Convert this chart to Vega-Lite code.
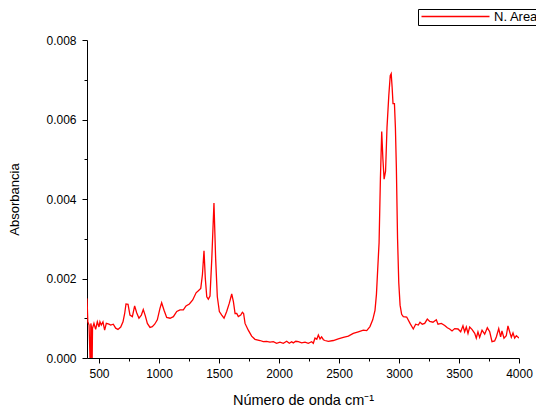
{
  "$schema": "https://vega.github.io/schema/vega-lite/v6.json",
  "width": 432,
  "height": 318,
  "autosize": {"type": "none"},
  "padding": {"left": 87, "top": 40, "right": 17, "bottom": 58},
  "background": "white",
  "config": {
    "view": {"stroke": null},
    "font": "Liberation Sans",
    "axis": {
      "grid": false,
      "domainColor": "black",
      "tickColor": "black",
      "labelColor": "black",
      "titleColor": "black",
      "labelFont": "Liberation Sans",
      "titleFont": "Liberation Sans",
      "labelFontSize": 12,
      "titleFontSize": 13,
      "titleFontWeight": "normal"
    }
  },
  "data": {
    "values": [
      {"wn": 400, "a": 0.0015}, {"wn": 407, "a": 0.00091}, {"wn": 417, "a": 0.00083}, {"wn": 428, "a": -0.0003},
      {"wn": 432, "a": 0.00087}, {"wn": 436, "a": 0.0008}, {"wn": 442, "a": -0.0003}, {"wn": 446, "a": 0.00075},
      {"wn": 458, "a": 0.00087}, {"wn": 472, "a": 0.00072}, {"wn": 486, "a": 0.00091}, {"wn": 500, "a": 0.00078},
      {"wn": 508, "a": 0.00091}, {"wn": 519, "a": 0.00083}, {"wn": 533, "a": 0.00091}, {"wn": 547, "a": 0.0007},
      {"wn": 561, "a": 0.00087}, {"wn": 583, "a": 0.00085}, {"wn": 597, "a": 0.00083}, {"wn": 619, "a": 0.00085},
      {"wn": 639, "a": 0.00075}, {"wn": 658, "a": 0.00072}, {"wn": 681, "a": 0.00078}, {"wn": 700, "a": 0.00091},
      {"wn": 714, "a": 0.00112}, {"wn": 725, "a": 0.00136}, {"wn": 742, "a": 0.00135}, {"wn": 758, "a": 0.00108},
      {"wn": 778, "a": 0.00104}, {"wn": 797, "a": 0.00131}, {"wn": 814, "a": 0.00114}, {"wn": 833, "a": 0.001},
      {"wn": 853, "a": 0.00108}, {"wn": 869, "a": 0.00122}, {"wn": 886, "a": 0.00106}, {"wn": 903, "a": 0.00087},
      {"wn": 925, "a": 0.00077}, {"wn": 944, "a": 0.00079}, {"wn": 964, "a": 0.00085}, {"wn": 986, "a": 0.00096},
      {"wn": 1008, "a": 0.00125}, {"wn": 1022, "a": 0.00139}, {"wn": 1042, "a": 0.0012}, {"wn": 1064, "a": 0.00102},
      {"wn": 1092, "a": 0.001}, {"wn": 1120, "a": 0.00104}, {"wn": 1148, "a": 0.00117}, {"wn": 1175, "a": 0.00121},
      {"wn": 1203, "a": 0.00121}, {"wn": 1225, "a": 0.00131}, {"wn": 1253, "a": 0.00136}, {"wn": 1281, "a": 0.00146},
      {"wn": 1309, "a": 0.00164}, {"wn": 1328, "a": 0.00169}, {"wn": 1348, "a": 0.00175}, {"wn": 1362, "a": 0.0021},
      {"wn": 1375, "a": 0.0027}, {"wn": 1386, "a": 0.002}, {"wn": 1398, "a": 0.00154}, {"wn": 1411, "a": 0.00148},
      {"wn": 1425, "a": 0.00156}, {"wn": 1440, "a": 0.0025}, {"wn": 1458, "a": 0.0039}, {"wn": 1472, "a": 0.0025},
      {"wn": 1486, "a": 0.00154}, {"wn": 1503, "a": 0.00117}, {"wn": 1523, "a": 0.00108}, {"wn": 1542, "a": 0.001},
      {"wn": 1564, "a": 0.00117}, {"wn": 1586, "a": 0.00138}, {"wn": 1606, "a": 0.00161}, {"wn": 1620, "a": 0.00142},
      {"wn": 1634, "a": 0.00112}, {"wn": 1648, "a": 0.00112}, {"wn": 1661, "a": 0.00104}, {"wn": 1681, "a": 0.00108},
      {"wn": 1695, "a": 0.00115}, {"wn": 1705, "a": 0.00112}, {"wn": 1717, "a": 0.00087}, {"wn": 1744, "a": 0.0007},
      {"wn": 1772, "a": 0.00055}, {"wn": 1800, "a": 0.00047}, {"wn": 1842, "a": 0.00044}, {"wn": 1869, "a": 0.00041},
      {"wn": 1897, "a": 0.00042}, {"wn": 1925, "a": 0.0004}, {"wn": 1953, "a": 0.00041}, {"wn": 1980, "a": 0.00037},
      {"wn": 2008, "a": 0.0004}, {"wn": 2036, "a": 0.00037}, {"wn": 2064, "a": 0.00042}, {"wn": 2086, "a": 0.00037},
      {"wn": 2105, "a": 0.00041}, {"wn": 2119, "a": 0.00038}, {"wn": 2140, "a": 0.00042}, {"wn": 2161, "a": 0.00041},
      {"wn": 2189, "a": 0.00038}, {"wn": 2217, "a": 0.0004}, {"wn": 2244, "a": 0.00037}, {"wn": 2272, "a": 0.00041},
      {"wn": 2286, "a": 0.00037}, {"wn": 2300, "a": 0.0005}, {"wn": 2315, "a": 0.00047}, {"wn": 2328, "a": 0.00058},
      {"wn": 2342, "a": 0.00048}, {"wn": 2355, "a": 0.00053}, {"wn": 2370, "a": 0.00046}, {"wn": 2383, "a": 0.00044},
      {"wn": 2411, "a": 0.00042}, {"wn": 2453, "a": 0.00044}, {"wn": 2494, "a": 0.00048}, {"wn": 2536, "a": 0.00052},
      {"wn": 2578, "a": 0.00055}, {"wn": 2619, "a": 0.00062}, {"wn": 2661, "a": 0.00066}, {"wn": 2703, "a": 0.0007},
      {"wn": 2731, "a": 0.00069}, {"wn": 2758, "a": 0.00079}, {"wn": 2781, "a": 0.00096}, {"wn": 2800, "a": 0.0012},
      {"wn": 2812, "a": 0.0016}, {"wn": 2822, "a": 0.0022}, {"wn": 2834, "a": 0.0029}, {"wn": 2845, "a": 0.0045},
      {"wn": 2856, "a": 0.0057}, {"wn": 2866, "a": 0.005}, {"wn": 2876, "a": 0.0045}, {"wn": 2888, "a": 0.0047},
      {"wn": 2900, "a": 0.0058}, {"wn": 2915, "a": 0.0066}, {"wn": 2927, "a": 0.0071}, {"wn": 2935, "a": 0.00715},
      {"wn": 2943, "a": 0.0068}, {"wn": 2950, "a": 0.0064}, {"wn": 2962, "a": 0.0064}, {"wn": 2970, "a": 0.0058},
      {"wn": 2978, "a": 0.0048}, {"wn": 2988, "a": 0.003}, {"wn": 2998, "a": 0.0019}, {"wn": 3009, "a": 0.00133},
      {"wn": 3022, "a": 0.0011}, {"wn": 3036, "a": 0.00104}, {"wn": 3064, "a": 0.00103}, {"wn": 3092, "a": 0.00087},
      {"wn": 3119, "a": 0.00073}, {"wn": 3139, "a": 0.00085}, {"wn": 3161, "a": 0.00083}, {"wn": 3175, "a": 0.0009},
      {"wn": 3194, "a": 0.00085}, {"wn": 3214, "a": 0.00087}, {"wn": 3236, "a": 0.00098}, {"wn": 3256, "a": 0.00092},
      {"wn": 3283, "a": 0.0009}, {"wn": 3311, "a": 0.00096}, {"wn": 3325, "a": 0.00085}, {"wn": 3353, "a": 0.00087},
      {"wn": 3381, "a": 0.00082}, {"wn": 3403, "a": 0.00076}, {"wn": 3422, "a": 0.00073}, {"wn": 3442, "a": 0.00068},
      {"wn": 3464, "a": 0.00074}, {"wn": 3492, "a": 0.00073}, {"wn": 3514, "a": 0.00066}, {"wn": 3533, "a": 0.00081},
      {"wn": 3547, "a": 0.00066}, {"wn": 3561, "a": 0.00078}, {"wn": 3575, "a": 0.00062}, {"wn": 3589, "a": 0.00078},
      {"wn": 3608, "a": 0.00072}, {"wn": 3631, "a": 0.00062}, {"wn": 3644, "a": 0.0005}, {"wn": 3658, "a": 0.00066},
      {"wn": 3672, "a": 0.00052}, {"wn": 3692, "a": 0.0007}, {"wn": 3714, "a": 0.0006}, {"wn": 3736, "a": 0.00076},
      {"wn": 3756, "a": 0.00066}, {"wn": 3775, "a": 0.00041}, {"wn": 3797, "a": 0.00043}, {"wn": 3811, "a": 0.00053},
      {"wn": 3831, "a": 0.00074}, {"wn": 3847, "a": 0.00053}, {"wn": 3858, "a": 0.00068}, {"wn": 3875, "a": 0.0005},
      {"wn": 3894, "a": 0.00056}, {"wn": 3908, "a": 0.00081}, {"wn": 3922, "a": 0.00066}, {"wn": 3936, "a": 0.00052},
      {"wn": 3950, "a": 0.00063}, {"wn": 3964, "a": 0.0005}, {"wn": 3978, "a": 0.00056}, {"wn": 4000, "a": 0.0005}
    ]
  },
  "mark": {"type": "line", "strokeWidth": 1.3, "clip": true, "interpolate": "linear"},
  "encoding": {
    "x": {
      "field": "wn",
      "type": "quantitative",
      "scale": {"domain": [400, 4000], "nice": false, "zero": false},
      "axis": {
        "title": "Número de onda cm⁻¹",
        "titleFontSize": 14.5,
        "values": [500, 750, 1000, 1250, 1500, 1750, 2000, 2250, 2500, 2750, 3000, 3250, 3500, 3750, 4000],
        "labelExpr": "datum.value % 500 == 0 ? datum.label : ''",
        "format": "d",
        "tickSize": {"condition": {"test": "datum.value % 500 == 0", "value": 5}, "value": 3},
        "labelPadding": 5,
        "titlePadding": 14,
        "labelFlush": false,
        "labelOverlap": false
      }
    },
    "y": {
      "field": "a",
      "type": "quantitative",
      "scale": {"domain": [0, 0.008], "nice": false},
      "axis": {
        "title": "Absorbancia",
        "values": [0, 0.001, 0.002, 0.003, 0.004, 0.005, 0.006, 0.007, 0.008],
        "labelExpr": "(round(datum.value * 1000) % 2 == 0) ? format(datum.value, '.3f') : ''",
        "tickSize": {"condition": {"test": "round(datum.value * 1000) % 2 == 0", "value": 5}, "value": 3},
        "labelPadding": 6,
        "titlePadding": 24,
        "labelOverlap": false
      }
    },
    "color": {
      "datum": "N. Area",
      "type": "nominal",
      "scale": {"range": ["#ff0000"]},
      "legend": {
        "title": null,
        "orient": "none",
        "legendX": 331,
        "legendY": -31,
        "strokeColor": "black",
        "padding": 1,
        "symbolType": "M-1,0H16",
        "symbolSize": 64,
        "symbolStrokeWidth": 1.3,
        "symbolFillColor": "transparent",
        "labelOffset": 62,
        "labelFont": "Liberation Sans",
        "labelFontSize": 13,
        "labelColor": "black",
        "fillColor": "white"
      }
    }
  }
}
